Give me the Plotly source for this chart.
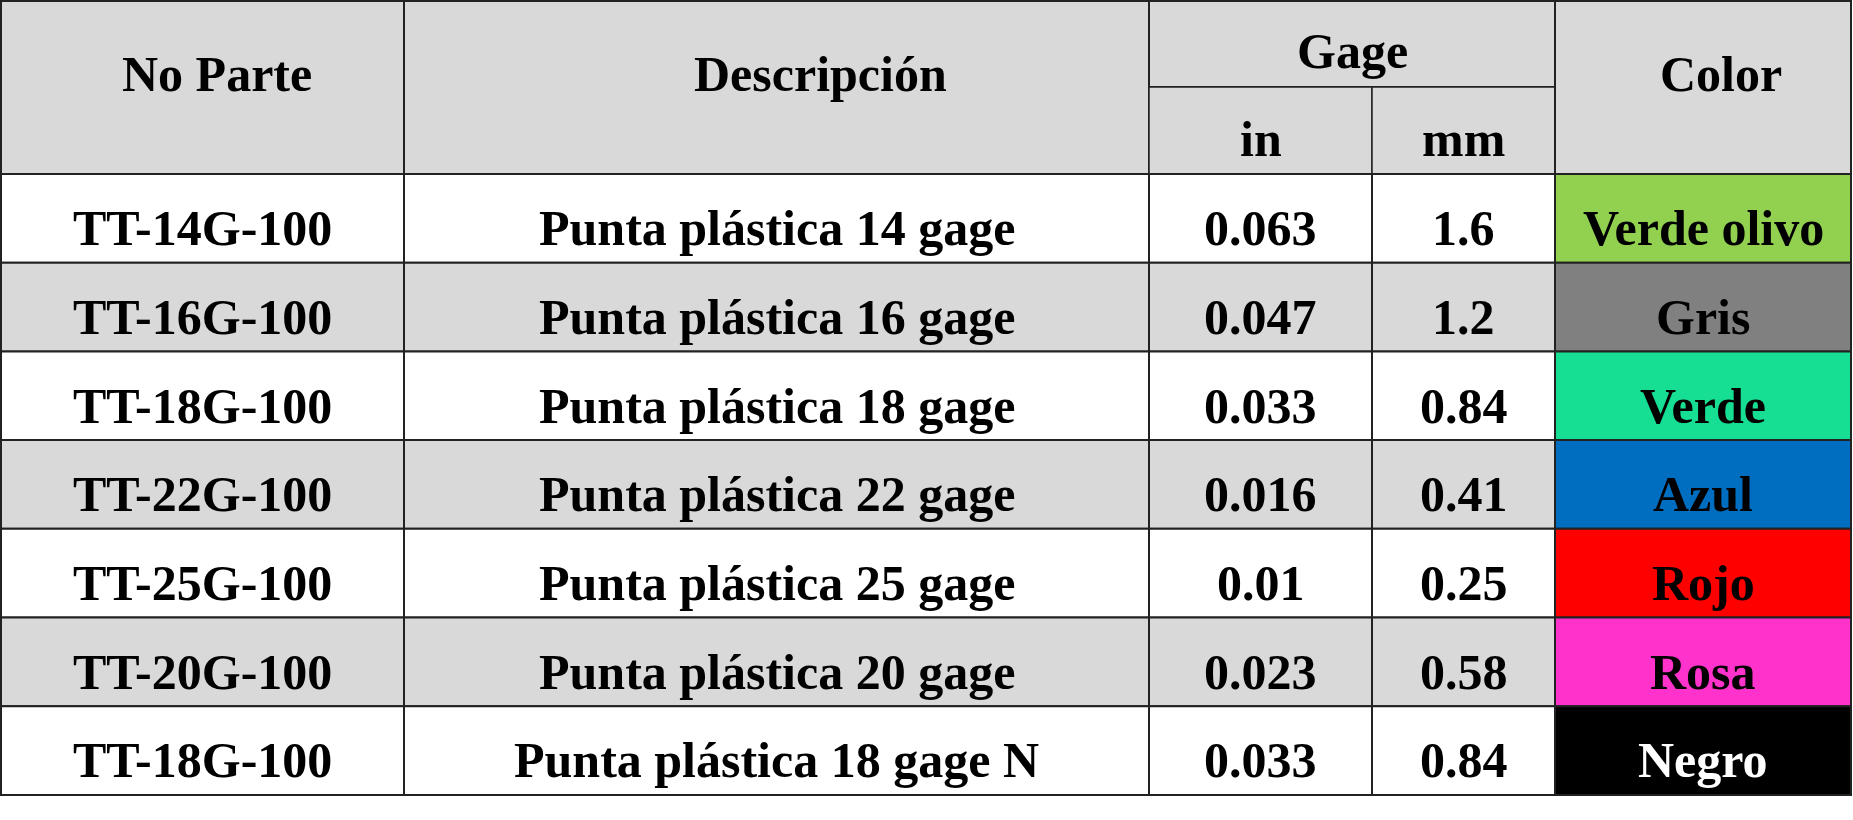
import plotly.graph_objects as go

# ---- data ----
part_numbers = ["TT-14G-100", "TT-16G-100", "TT-18G-100", "TT-22G-100",
                "TT-25G-100", "TT-20G-100", "TT-18G-100"]
descriptions = ["Punta plástica 14 gage", "Punta plástica 16 gage",
                "Punta plástica 18 gage", "Punta plástica 22 gage",
                "Punta plástica 25 gage", "Punta plástica 20 gage",
                "Punta plástica 18 gage N"]
gage_in = [0.063, 0.047, 0.033, 0.016, 0.01, 0.023, 0.033]
gage_mm = [1.6, 1.2, 0.84, 0.41, 0.25, 0.58, 0.84]
color_names = ["Verde olivo", "Gris", "Verde", "Azul", "Rojo", "Rosa", "Negro"]
header_main = ["No Parte", "Descripción", "Gage", "Color"]
header_sub = ["in", "mm"]

# ---- styles / layout ----
W, H = 1853, 820
col_edges = [1, 404, 1149, 1372, 1555, 1851]
hdr_top, hdr_mid, hdr_bot = 1, 87, 174
row_h = 88.7
FS = 50
FONT = "Liberation Serif"
HDR_FILL = "#D9D9D9"
ALT_FILL = ["#FFFFFF", "#D9D9D9"]
LINE = "#222222"
swatch = {"Verde olivo": "#92D050", "Gris": "#808080", "Verde": "#16DF93",
          "Azul": "#006EC0", "Rojo": "#FF0000", "Rosa": "#FF33CC",
          "Negro": "#000000"}
text_on = {"Negro": "#FFFFFF"}
hdr_shift = [14, 44, 0, 18]  # visual horizontal offsets of header labels
BASE_OFF = 0.3375 * FS  # baseline offset from middle anchor

shapes = []
annotations = []


def cell(x0, x1, y0, y1, fill, lw=2):
    shapes.append(dict(type="rect", xref="x", yref="y", x0=x0, x1=x1,
                       y0=y0, y1=y1, fillcolor=fill, layer="below",
                       line=dict(color=LINE, width=lw)))


def label(x, baseline, text, color="#000000"):
    annotations.append(dict(x=x, y=baseline - BASE_OFF, xref="x", yref="y",
                            text=text, showarrow=False, xanchor="center",
                            yanchor="middle",
                            font=dict(family=FONT, size=FS, color=color,
                                      weight="bold")))


# header cells
c = col_edges
cell(c[0], c[1], hdr_top, hdr_bot, HDR_FILL)
cell(c[1], c[2], hdr_top, hdr_bot, HDR_FILL)
cell(c[2], c[4], hdr_top, hdr_mid, HDR_FILL)
cell(c[2], c[3], hdr_mid, hdr_bot, HDR_FILL, 1.5)
cell(c[3], c[4], hdr_mid, hdr_bot, HDR_FILL, 1.5)
cell(c[4], c[5], hdr_top, hdr_bot, HDR_FILL)

label((c[0] + c[1]) / 2 + hdr_shift[0], 91, header_main[0])
label((c[1] + c[2]) / 2 + hdr_shift[1], 91, header_main[1])
label((c[2] + c[4]) / 2 + hdr_shift[2], 68, header_main[2])
label((c[4] + c[5]) / 2 + hdr_shift[3], 91, header_main[3])
label((c[2] + c[3]) / 2, 156, header_sub[0])
label((c[3] + c[4]) / 2, 156, header_sub[1])

# body
for i in range(len(part_numbers)):
    y0 = hdr_bot + i * row_h
    y1 = y0 + row_h
    base = y0 + 71
    fill = ALT_FILL[i % 2]
    values = [part_numbers[i], descriptions[i], str(gage_in[i]), str(gage_mm[i])]
    for j, v in enumerate(values):
        cell(c[j], c[j + 1], y0, y1, fill)
        label((c[j] + c[j + 1]) / 2, base, v)
    name = color_names[i]
    cell(c[4], c[5], y0, y1, swatch[name])
    label((c[4] + c[5]) / 2, base, name, text_on.get(name, "#000000"))

fig = go.Figure()
fig.add_trace(go.Scatter(x=[0, W], y=[0, H], mode="markers",
                         marker=dict(opacity=0), hoverinfo="skip",
                         showlegend=False))
fig.update_layout(
    width=W, height=H, margin=dict(l=0, r=0, t=0, b=0),
    paper_bgcolor="white", plot_bgcolor="white",
    xaxis=dict(range=[0, W], visible=False, fixedrange=True),
    yaxis=dict(range=[H, 0], visible=False, fixedrange=True),
    shapes=shapes, annotations=annotations, showlegend=False,
)
fig.write_html("out.html", config={"displayModeBar": False},
               post_script="document.body.style.margin='0';"
                           "document.body.style.overflow='hidden';")
